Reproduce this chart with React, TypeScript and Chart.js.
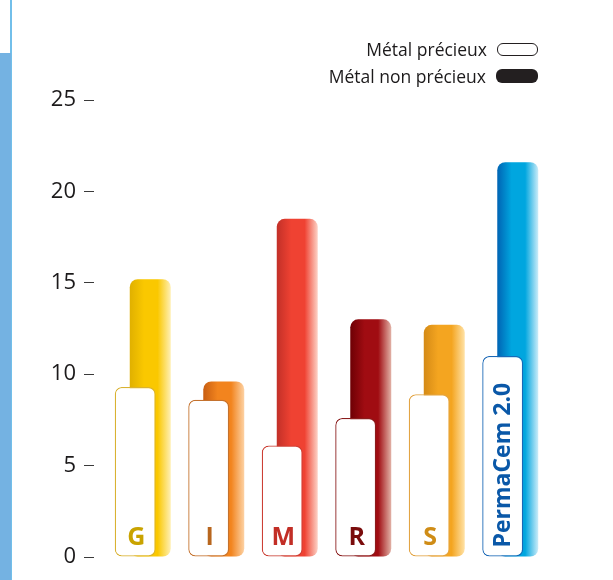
import React, { useEffect, useRef } from 'react';
import { Chart, registerables } from 'chart.js';

Chart.register(...registerables);

// ---- data ----
const categories = ['G', 'I', 'M', 'R', 'S', 'PermaCem 2.0'];
const seriesNames = ['Métal précieux', 'Métal non précieux'];
const preciousValues = [9.3, 8.6, 6.1, 7.6, 8.9, 11.0];
const nonPreciousValues = [15.2, 9.6, 18.5, 13.0, 12.7, 21.6];
const yTicks = [0, 5, 10, 15, 20, 25];

// ---- styles ----
const gradDark = ['#e0b000', '#c85e12', '#c23028', '#6e0004', '#d48a16', '#0064b4'];
const gradMid = ['#fac800', '#f2841e', '#ef4232', '#a00c12', '#f4a520', '#00a6df'];
const gradLight = ['#fff0b4', '#fdd2a4', '#fdd2c6', '#e2b2a6', '#ffe2a6', '#cbecf9'];
const frameColors = ['#d9b232', '#c4722e', '#cc4036', '#8a1c1c', '#e2a444', '#1a68b6'];
const labelColors = ['#c9a300', '#b8661e', '#c22e26', '#7a0c0c', '#cf8c16', '#0a58a8'];
const FONT = '"Open Sans", "DejaVu Sans", sans-serif';

const barLabels = {
  id: 'barLabels',
  afterDatasetsDraw(chart: any) {
    const meta = chart.getDatasetMeta(0);
    const ctx = chart.ctx;
    meta.data.forEach((el: any, i: number) => {
      const { x, base } = el.getProps(['x', 'base'], true);
      const text = categories[i];
      ctx.save();
      ctx.fillStyle = labelColors[i];
      if (text.length > 1) {
        ctx.translate(x, base - 9);
        ctx.rotate(-Math.PI / 2);
        ctx.font = `bold 23px ${FONT}`;
        ctx.textAlign = 'left';
        ctx.textBaseline = 'middle';
        ctx.fillText(text, 0, 1);
      } else {
        ctx.font = `bold 25px ${FONT}`;
        ctx.textAlign = 'center';
        ctx.textBaseline = 'alphabetic';
        ctx.fillText(text, x + 1, base - 12);
      }
      ctx.restore();
    });
  },
};

export default function App() {
  const canvasRef = useRef<HTMLCanvasElement | null>(null);

  useEffect(() => {
    const canvas = canvasRef.current;
    if (!canvas) return;
    const chart = new Chart(canvas, {
      type: 'bar',
      data: {
        labels: categories,
        datasets: [
          {
            label: seriesNames[0],
            data: preciousValues,
            backgroundColor: '#ffffff',
            borderColor: frameColors,
            borderWidth: 1.3,
            borderRadius: 7,
            borderSkipped: false,
            categoryPercentage: 0.4085,
            barPercentage: 2.73,
          },
          {
            label: seriesNames[1],
            data: nonPreciousValues,
            backgroundColor: (c: any) => {
              const i = c.dataIndex;
              const el = c.element;
              if (!el || !Number.isFinite(el.x) || !Number.isFinite(el.width)) return gradMid[i];
              const g = c.chart.ctx.createLinearGradient(el.x - el.width / 2, 0, el.x + el.width / 2, 0);
              g.addColorStop(0, gradDark[i]);
              g.addColorStop(0.35, gradMid[i]);
              g.addColorStop(0.68, gradMid[i]);
              g.addColorStop(1, gradLight[i]);
              return g;
            },
            borderWidth: 0,
            borderRadius: 8,
            borderSkipped: false,
            categoryPercentage: 0.4085,
            barPercentage: 2.73,
          },
        ],
      },
      options: {
        animation: false,
        responsive: false,
        maintainAspectRatio: false,
        layout: { padding: { top: 100, bottom: 23, left: 0, right: 66 } },
        plugins: {
          legend: { display: false },
          tooltip: { enabled: false },
        },
        scales: {
          x: { display: false, offset: true },
          y: {
            position: 'left',
            weight: 10,
            min: 0,
            max: 25,
            afterBuildTicks: (s: any) => {
              s.ticks = yTicks.map((v) => ({ value: v }));
            },
            afterFit: (s: any) => {
              s.width = 94;
            },
            border: { display: false },
            grid: {
              drawOnChartArea: false,
              drawTicks: true,
              tickLength: 10,
              tickColor: '#3a3a3a',
              tickWidth: 1,
            },
            ticks: {
              padding: 8,
              color: '#1c1a1b',
              font: { family: FONT, size: 22 },
              callback: (v: any) => String(v),
            },
          },
          y2: {
            position: 'left',
            weight: 0,
            display: true,
            afterFit: (s: any) => {
              s.width = 12;
            },
            grid: { display: false },
            border: { display: false },
            ticks: { display: false },
          },
        },
      },
      plugins: [barLabels],
    } as any);
    chart.update();
    return () => chart.destroy();
  }, []);

  const legendRow = (name: string, filled: boolean, top: number) => (
    <div
      key={name}
      style={{
        position: 'absolute',
        left: 0,
        width: 538,
        top,
        height: 27,
        display: 'flex',
        justifyContent: 'flex-end',
        alignItems: 'center',
        fontFamily: FONT,
        fontSize: 17.5,
        color: '#1c1a1b',
        whiteSpace: 'nowrap',
      }}
    >
      <span style={{ marginRight: 10 }}>{name}</span>
      <span
        style={{
          display: 'inline-block',
          width: filled ? 42 : 39,
          height: filled ? 14 : 11,
          borderRadius: 6,
          background: filled ? '#231f20' : '#ffffff',
          border: filled ? 'none' : '1.5px solid #231f20',
        }}
      />
    </div>
  );

  return (
    <div style={{ position: 'absolute', left: 0, top: 0, width: 613, height: 580, background: '#ffffff', overflow: 'hidden' }}>
      <div style={{ position: 'absolute', left: 10, top: 0, width: 2, height: 580, background: '#72bfea' }} />
      <div style={{ position: 'absolute', left: 0, top: 53, width: 11, height: 527, background: '#74b2e2' }} />
      <canvas ref={canvasRef} width={613} height={580} style={{ position: 'absolute', left: 0, top: 0 }} />
      {legendRow(seriesNames[0], false, 35.5)}
      {legendRow(seriesNames[1], true, 62.5)}
    </div>
  );
}
